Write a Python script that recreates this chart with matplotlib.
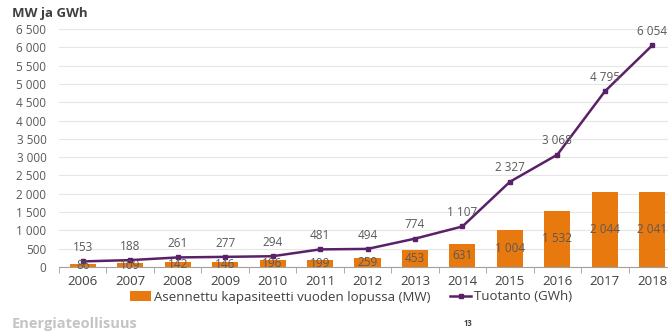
import matplotlib.pyplot as plt
import numpy as np

years = ["2006", "2007", "2008", "2009", "2010", "2011", "2012",
         "2013", "2014", "2015", "2016", "2017", "2018"]
capacity_mw = [86, 109, 142, 146, 196, 199, 259, 453, 631, 1004, 1532, 2044, 2041]
production_gwh = [153, 188, 261, 277, 294, 481, 494, 774, 1107, 2327, 3068, 4795, 6054]
y_ticks = list(range(0, 7000, 500))

ORANGE = "#E8790F"
PURPLE = "#5A2168"
GREY = "#595959"


def fmt(v):
    return f"{v:,}".replace(",", " ")


plt.rcParams["font.family"] = ["Open Sans", "DejaVu Sans"]

fig = plt.figure(figsize=(6.68, 3.31), dpi=100)
ax = fig.add_axes([59 / 668, 64 / 331, 617 / 668, 238 / 331])

x = np.arange(len(years))
bars = ax.bar(x, capacity_mw, width=0.55, color=ORANGE, zorder=2,
              label="Asennettu kapasiteetti vuoden lopussa (MW)")
line, = ax.plot(x, production_gwh, color=PURPLE, lw=1.8, marker="s", ms=3.5,
                zorder=3, label="Tuotanto (GWh)")

for xi, v in zip(x, capacity_mw):
    ax.text(xi, v / 2, fmt(v), ha="center", va="center", fontsize=8.5, color=GREY, zorder=4)
for xi, v in zip(x, production_gwh):
    ax.text(xi, v + 200, fmt(v), ha="center", va="bottom", fontsize=8.5, color=GREY, zorder=4)

ax.set_xlim(-0.5, len(years) - 0.5)
ax.set_ylim(0, 6500)
ax.set_yticks(y_ticks)
ax.set_yticklabels([fmt(t) for t in y_ticks], fontsize=8.5, color=GREY)
ax.set_xticks(x)
ax.set_xticklabels(years, fontsize=9.5, color="#404040")
ax.tick_params(axis="x", length=0, pad=6)
ax.tick_params(axis="y", length=0, pad=9)
ax.set_xticks(np.arange(-0.5, len(years)), minor=True)
ax.tick_params(axis="x", which="minor", length=4, color="#A0A0A0", direction="out")

ax.grid(axis="y", color="#E6E6E6", lw=0.8, zorder=0)
for side in ("top", "right", "left"):
    ax.spines[side].set_visible(False)
ax.spines["bottom"].set_color("#A0A0A0")

fig.text(12 / 668, 1 - 14 / 331, "MW ja GWh", fontsize=9.5, fontweight="bold",
         color="#404040", va="center")

fig.legend(handles=[bars, line], loc="center", bbox_to_anchor=(351 / 668, 1 - 297 / 331),
           ncol=2, frameon=False, fontsize=9.5, handlelength=1.6, columnspacing=1.5,
           handletextpad=0.2, labelcolor="#404040")

fig.text(12 / 668, 1 - 324 / 331, "Energiateollisuus", fontsize=10.5, fontweight="bold",
         color="#C4C4C4", va="center")
fig.text(468 / 668, 1 - 323 / 331, "13", fontsize=5.5, fontweight="bold",
         color="#404040", va="center", ha="center")

fig.savefig("out.png", dpi=100)
